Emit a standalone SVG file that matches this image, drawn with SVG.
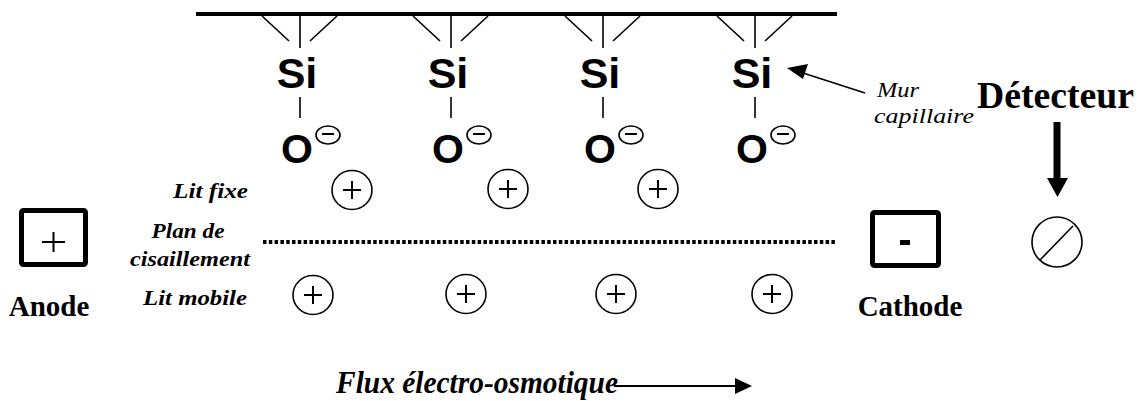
<svg xmlns="http://www.w3.org/2000/svg" width="1145" height="401" viewBox="0 0 1145 401">
<style>
.ln{stroke:#000;stroke-width:1.6;fill:none}
.si{font-family:"Liberation Sans",Arial,sans-serif;font-weight:bold;font-size:43px;fill:#000}
.o{font-family:"Liberation Sans",Arial,sans-serif;font-weight:bold;font-size:41px;fill:#000}
.lab{font-family:"Liberation Serif","Times New Roman",serif;font-weight:bold;font-style:italic;font-size:22px;fill:#000}
.wall{font-family:"Liberation Serif","Times New Roman",serif;font-style:italic;font-size:22px;fill:#000}
.big{font-family:"Liberation Serif","Times New Roman",serif;font-weight:bold;font-size:29px;fill:#000}
.det{font-family:"Liberation Serif","Times New Roman",serif;font-weight:bold;font-size:38px;fill:#000}
.flux{font-family:"Liberation Serif","Times New Roman",serif;font-weight:bold;font-style:italic;font-size:32px;fill:#000}
.ion{stroke:#000;stroke-width:1.6;fill:#fff}
.pl{stroke:#000;stroke-width:2;fill:none}
.box{stroke:#000;stroke-width:5;fill:#fff}
</style>
<defs>
<g id="siunit">
<line class="ln" x1="-38" y1="16" x2="-11" y2="41"/>
<line class="ln" x1="0" y1="16" x2="0" y2="48"/>
<line class="ln" x1="37" y1="16" x2="10" y2="41"/>
<text class="si" x="-3" y="88" text-anchor="middle">Si</text>
<line class="ln" x1="0" y1="97" x2="0" y2="118"/>
<text class="o" x="-3" y="163" text-anchor="middle">O</text>
<ellipse class="ln" cx="28" cy="135" rx="12" ry="9"/>
<line class="pl" x1="22" y1="134" x2="34" y2="134"/>
</g>
<g id="plus">
<ellipse class="ion" cx="0" cy="0" rx="20" ry="19.5"/>
<line class="pl" x1="-9" y1="0" x2="9" y2="0"/>
<line class="pl" x1="0" y1="-9" x2="0" y2="9"/>
</g>
</defs>

<g id="capillary-wall">
<line x1="196" y1="14" x2="837" y2="14" stroke="#000" stroke-width="4"/>
</g>
<g id="silanol-1"><use href="#siunit" transform="translate(300,0)"/></g>
<g id="silanol-2"><use href="#siunit" transform="translate(451,0)"/></g>
<g id="silanol-3"><use href="#siunit" transform="translate(603,0)"/></g>
<g id="silanol-4"><use href="#siunit" transform="translate(755,0)"/></g>

<g id="fixed-ions">
<use href="#plus" transform="translate(352,190)"/>
<use href="#plus" transform="translate(508,189)"/>
<use href="#plus" transform="translate(658,189)"/>
</g>
<g id="mobile-ions">
<use href="#plus" transform="translate(313,295)"/>
<use href="#plus" transform="translate(466,294)"/>
<use href="#plus" transform="translate(616,294)"/>
<use href="#plus" transform="translate(772,294)"/>
</g>

<g id="labels">
<text class="lab" x="248" y="198" text-anchor="end" textLength="75" lengthAdjust="spacingAndGlyphs">Lit fixe</text>
<text class="lab" x="188" y="238" text-anchor="middle" textLength="73" lengthAdjust="spacingAndGlyphs">Plan de</text>
<text class="lab" x="190" y="266" text-anchor="middle" textLength="120" lengthAdjust="spacingAndGlyphs">cisaillement</text>
<text class="lab" x="247" y="305" text-anchor="end" textLength="104" lengthAdjust="spacingAndGlyphs">Lit mobile</text>
</g>

<g id="anode">
<rect class="box" x="21.5" y="210.5" width="64" height="54" rx="2"/>
<line class="pl" x1="42" y1="242" x2="65" y2="242"/>
<line class="pl" x1="53.5" y1="232" x2="53.5" y2="252"/>
<text class="big" x="49" y="316" text-anchor="middle">Anode</text>
</g>

<g id="cathode">
<rect class="box" x="872.5" y="212.5" width="66" height="53" rx="2"/>
<rect x="900" y="240" width="10" height="5" fill="#000"/>
<text class="big" x="910" y="316" text-anchor="middle">Cathode</text>
</g>

<g id="detector">
<text class="det" x="977" y="108" textLength="157" lengthAdjust="spacingAndGlyphs">Détecteur</text>
<circle class="ln" cx="1057" cy="242" r="25"/>
<line class="ln" x1="1040" y1="260" x2="1073" y2="226"/>
</g>

<g id="wall-label">
<text class="wall" x="877" y="97" textLength="42" lengthAdjust="spacingAndGlyphs">Mur</text>
<text class="wall" x="874" y="123" textLength="100" lengthAdjust="spacingAndGlyphs">capillaire</text>
</g>

<g id="flux-label">
<text class="flux" x="336" y="393" textLength="282" lengthAdjust="spacingAndGlyphs">Flux électro-osmotique</text>
</g>

<g id="connectors">
<line x1="263" y1="242" x2="837" y2="242" stroke="#000" stroke-width="4" stroke-dasharray="3.5 2.3"/>
<line class="ln" x1="865" y1="93" x2="803" y2="73"/>
<polygon points="787,68 808,64 803,79" fill="#000"/>
<line x1="1057" y1="122" x2="1057" y2="180" stroke="#000" stroke-width="7"/>
<polygon points="1047,178 1068,178 1057.5,197" fill="#000"/>
<line x1="614" y1="386" x2="737" y2="386" stroke="#000" stroke-width="2"/>
<polygon points="735,378 752,386 735,394" fill="#000"/>
</g>
</svg>
